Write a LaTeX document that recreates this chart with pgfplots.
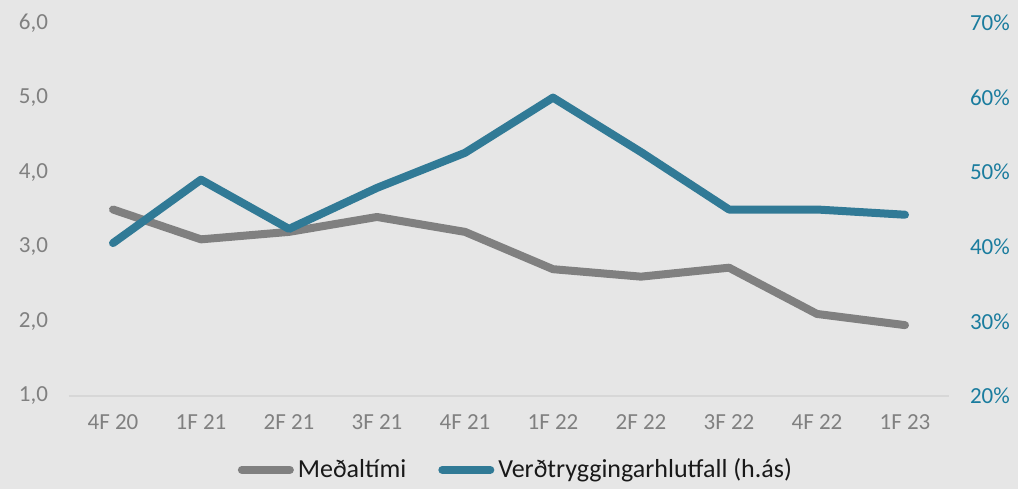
\documentclass[border=0pt]{standalone}
\usepackage{pgfplots}
\pgfplotsset{compat=1.18}
\usepackage{fontspec}
\setmainfont{Carlito}
\definecolor{bgc}{RGB}{230,230,230}
\definecolor{gline}{RGB}{128,128,128}
\definecolor{bline}{RGB}{49,122,150}
\definecolor{blab}{RGB}{26,124,158}
\definecolor{tickg}{RGB}{128,128,128}
\definecolor{gridc}{RGB}{215,215,215}
\begin{document}
\begin{tikzpicture}
\fill[bgc] (0,0) rectangle (509pt,244.5pt);
\begin{axis}[
  at={(34.5pt,46.5pt)}, anchor=south west,
  scale only axis, width=440pt, height=186.5pt,
  xmin=-0.5, xmax=9.5, ymin=1, ymax=6,
  axis x line*=bottom, axis y line*=left, axis line style={draw=none},
  xtick=data, xticklabels={4F 20,1F 21,2F 21,3F 21,4F 21,1F 22,2F 22,3F 22,4F 22,1F 23},
  ytick={1,2,3,4,5,6},
  tick style={draw=none},
  ticklabel style={font=\fontsize{11.5}{13}\selectfont, text=tickg},
  /pgf/number format/assume math mode=true,
  /pgf/number format/fixed, /pgf/number format/fixed zerofill,
  /pgf/number format/precision=1, /pgf/number format/use comma,
  yticklabel style={xshift=-7pt},
  xticklabel style={yshift=-6pt},
  clip=false,
]
\draw[gridc, line width=0.6pt] (axis cs:-0.5,1) -- (axis cs:9.5,1);
\addplot[gline, line width=4pt, line cap=round, line join=round] coordinates {
(0,3.5) (1,3.1) (2,3.2) (3,3.4) (4,3.2) (5,2.7) (6,2.6) (7,2.72) (8,2.1) (9,1.95)};
\end{axis}
\begin{axis}[
  at={(34.5pt,46.5pt)}, anchor=south west,
  scale only axis, width=440pt, height=186.5pt,
  xmin=-0.5, xmax=9.5, ymin=20, ymax=70,
  axis x line=none, axis y line*=right, axis line style={draw=none},
  ytick={20,30,40,50,60,70},
  yticklabel={\pgfmathprintnumber{\tick}\%},
  tick style={draw=none},
  ticklabel style={font=\fontsize{11.5}{13}\selectfont, text=blab},
  /pgf/number format/assume math mode=true,
  yticklabel style={xshift=7pt},
  clip=false,
  legend style={at={(0.509,-0.198)}, anchor=center, draw=none, fill=none,
    font=\fontsize{13}{15}\selectfont, text=black!90,
    /tikz/every even column/.append style={column sep=14pt}},
  legend columns=2,
  legend image code/.code={\draw[#1, line width=4pt, line cap=round] (0pt,0pt) -- (24pt,0pt);},
]
\addlegendimage{gline}
\addlegendentry{Meðaltími}
\addplot[bline, line width=4pt, line cap=round, line join=round] coordinates {
(0,40.5) (1,49) (2,42.4) (3,47.9) (4,52.6) (5,60) (6,52.7) (7,45) (8,45) (9,44.3)};
\addlegendentry{Verðtryggingarhlutfall (h.ás)}
\end{axis}
\pgfresetboundingbox
\path (0,0) rectangle (509pt,244.5pt);
\end{tikzpicture}
\end{document}
